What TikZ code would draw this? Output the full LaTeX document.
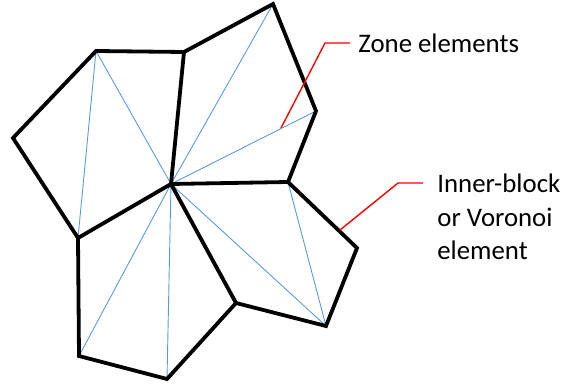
\documentclass[tikz,border=0pt]{standalone}
\usepackage{fontspec}
\setmainfont{Carlito}
\usepackage{tikz}
\usetikzlibrary{positioning,calc}
\definecolor{blockdraw}{RGB}{0,0,0}
\definecolor{zonedraw}{RGB}{91,155,213}
\definecolor{leaderred}{RGB}{255,0,0}

\begin{document}
\begin{tikzpicture}[
  x=0.5pt, y=-0.5pt,
  blk/.style={line width=1.9pt, draw=blockdraw, line join=miter},
  zone/.style={line width=0.45pt, draw=zonedraw},
  lead/.style={line width=0.7pt, draw=leaderred},
  lbl/.style={font=\fontsize{13.4}{17}\selectfont, text=black, align=left, inner sep=0pt},
]
\useasboundingbox (0,0) rectangle (563,385);

% ============ vertices ============
\coordinate (c)   at (171,184);
\coordinate (v1)  at (96,51);
\coordinate (v2)  at (184,52);
\coordinate (v3)  at (273,4);
\coordinate (v4)  at (316,111);
\coordinate (v5)  at (288,182);
\coordinate (v6)  at (357,248);
\coordinate (v7)  at (326,326);
\coordinate (v8)  at (236,303);
\coordinate (v9)  at (167,379);
\coordinate (v10) at (79,356);
\coordinate (v11) at (78,238);
\coordinate (v12) at (13,138);

% ============ zone elements (blue) ============
\draw[zone] (v1)--(v11); \draw[zone] (v1)--(c);
\draw[zone] (c)--(v3);   \draw[zone] (c)--(v4);
\draw[zone] (v5)--(v7);  \draw[zone] (c)--(v7);
\draw[zone] (c)--(v9);   \draw[zone] (c)--(v10);

% ============ inner blocks (black) ============
\draw[blk] (v12)--(v1)--(v2)--(v3)--(v4)--(v5)--(v6)--(v7)--(v8)--(v9)--(v10)--(v11)--cycle;
\draw[blk] (v2)--(c)--(v5);
\draw[blk] (v11)--(c)--(v8);

% ============ labels ============
\node[lbl, anchor=base west] (zlbl) at (358,53) {Zone elements};
\node[lbl, anchor=base west] (ilbl) at (437,260) {Inner-block\\or Voronoi\\element};

\coordinate (zs) at (281,128);
\coordinate (zk) at (325,43);
\coordinate (is) at (340,230);
\coordinate (ik) at (398,183);
\draw[lead] (zs)--(zk)--($(zk -| zlbl.west)+(-8,0)$);
\draw[lead] (is)--(ik)--($(ik -| ilbl.west)+(-14,0)$);
\end{tikzpicture}
\end{document}
